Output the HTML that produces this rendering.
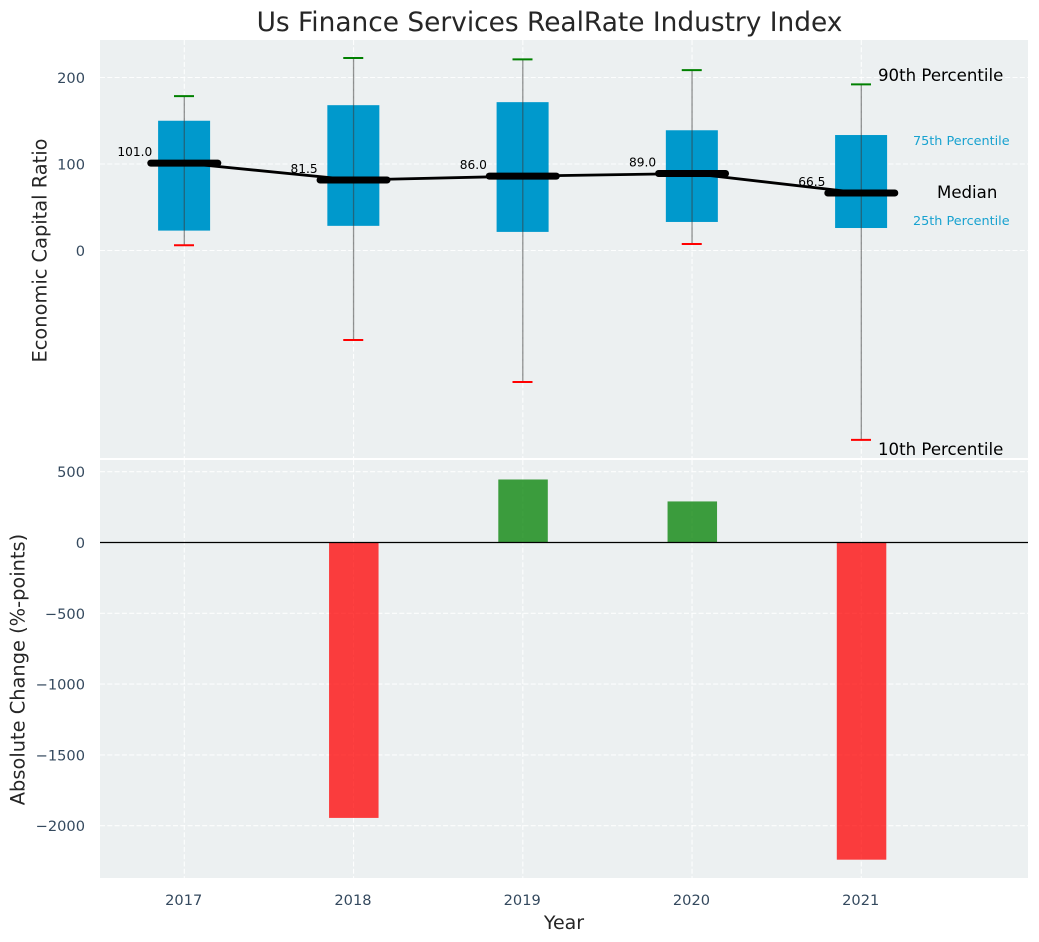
<!DOCTYPE html>
<html lang="en">
<head>
<meta charset="utf-8">
<title>Us Finance Services RealRate Industry Index</title>
<style>
html,body{margin:0;padding:0;background:#fff;width:1039px;height:942px;overflow:hidden}
svg{display:block;font-family:"DejaVu Sans","Liberation Sans",sans-serif}
</style>
</head>
<body>
<svg id="chart" width="1039" height="942" viewBox="0 0 1039 942" xmlns="http://www.w3.org/2000/svg">
  <rect x="100" y="40" width="928" height="418" fill="#ecf0f1"/>
  <rect x="100" y="460" width="928" height="418" fill="#ecf0f1"/>
  <text x="549.5" y="31" text-anchor="middle" font-size="26.4" fill="#262626">Us Finance Services RealRate Industry Index</text>
  <text transform="translate(46.5,250.5) rotate(-90)" text-anchor="middle" font-size="19.4" fill="#262626">Economic Capital Ratio</text>
  <text transform="translate(24.5,669.5) rotate(-90)" text-anchor="middle" font-size="19.4" fill="#262626">Absolute Change (%-points)</text>
  <text x="564" y="929" text-anchor="middle" font-size="19" fill="#262626">Year</text>
  <g id="grid"></g>
  <g id="bars"></g>
  <g id="boxes"></g>
  <g id="ticks"></g>
  <text x="878" y="81" font-size="16.6" fill="#000">90th Percentile</text>
  <text x="913" y="145" font-size="12.8" fill="#0099cc" fill-opacity="0.9">75th Percentile</text>
  <text x="937" y="198" font-size="16.6" fill="#000">Median</text>
  <text x="913" y="225" font-size="12.8" fill="#0099cc" fill-opacity="0.9">25th Percentile</text>
  <text x="878" y="455" font-size="16.6" fill="#000">10th Percentile</text>
</svg>
<script>
const years = [2017, 2018, 2019, 2020, 2021];
const p90 = [178.5, 222.5, 221, 208.5, 192];
const p75 = [150, 168, 171.5, 139, 133.5];
const medians = [101.0, 81.5, 86.0, 89.0, 66.5];
const p25 = [23, 28.5, 21.5, 33, 26];
const p10 = [6, -103.5, -152, 7.5, -219];
const changes = [0, -1945, 445, 290, -2240];
const topTicks = [200, 100, 0];
const bottomTicks = [500, 0, -500, -1000, -1500, -2000];

const NS = 'http://www.w3.org/2000/svg';
const xPos = function (year) { return 184.3 + (year - 2017) * 169.25; };
const yTop = function (v) { return 250.5 - v * 0.865; };
const yBottom = function (v) { return 542.5 - v * 0.1416; };

function make(parent, tag, attrs, text) {
  const el = document.createElementNS(NS, tag);
  Object.keys(attrs).forEach(function (k) { el.setAttribute(k, attrs[k]); });
  if (text !== undefined) el.textContent = text;
  parent.appendChild(el);
  return el;
}
function fmt(v) { return String(v).replace('-', '\u2212'); }

const grid = document.getElementById('grid');
const bars = document.getElementById('bars');
const boxes = document.getElementById('boxes');
const ticks = document.getElementById('ticks');
const gridStyle = { stroke: '#ffffff', 'stroke-width': 1.1, 'stroke-dasharray': '5 2.3', 'stroke-opacity': 0.9 };

years.forEach(function (year) {
  const x = xPos(year);
  const g1 = make(grid, 'line', Object.assign({ x1: x, x2: x, y1: 40, y2: 458 }, gridStyle));
  
  
  const g2 = make(grid, 'line', Object.assign({ x1: x, x2: x, y1: 460, y2: 878 }, gridStyle));
  
  
  const t = make(ticks, 'text', { x: x - 0.6, y: 905, 'text-anchor': 'middle', 'font-size': 14.6, fill: '#34495e' }, String(year));
  
  
});

topTicks.forEach(function (v) {
  const y = yTop(v);
  const g = make(grid, 'line', Object.assign({ x1: 100, x2: 1028, y1: y, y2: y }, gridStyle));
  
  
  const t = make(ticks, 'text', { x: 85, y: y + 5.5, 'text-anchor': 'end', 'font-size': 14.6, fill: '#34495e' }, fmt(v));
  
  
});

bottomTicks.forEach(function (v) {
  const y = yBottom(v);
  const g = make(grid, 'line', Object.assign({ x1: 100, x2: 1028, y1: y, y2: y }, gridStyle));
  
  
  const t = make(ticks, 'text', { x: 85, y: y + 5.5, 'text-anchor': 'end', 'font-size': 14.6, fill: '#34495e' }, fmt(v));
  
  
});

changes.forEach(function (v, i) {
  if (v === 0) return;
  const x = xPos(years[i]);
  const y0 = yBottom(0);
  const y1 = yBottom(v);
  const bar = make(bars, 'rect', {
    x: x - 24.5, width: 49.5,
    y: Math.min(y0, y1), height: Math.abs(y1 - y0),
    fill: v < 0 ? '#ff0000' : '#008000', 'fill-opacity': 0.75
  });
  
  
});

const zero = make(bars, 'line', { x1: 100, x2: 1028, y1: yBottom(0), y2: yBottom(0), stroke: '#000', 'stroke-width': 1.2 });



years.forEach(function (year, i) {
  const x = xPos(year);
  const box = make(boxes, 'rect', {
    x: x - 26.2, width: 52, y: yTop(p75[i]), height: yTop(p25[i]) - yTop(p75[i]), fill: '#0099cc'
  });
  
  
  const w = make(boxes, 'line', { x1: x, x2: x, y1: yTop(p90[i]), y2: yTop(p10[i]), stroke: '#3a3a3a', 'stroke-opacity': 0.55, 'stroke-width': 1.3 });
  
  
  const hi = make(boxes, 'line', { x1: x - 10.3, x2: x + 9.7, y1: yTop(p90[i]), y2: yTop(p90[i]), stroke: '#008000', 'stroke-width': 2 });
  
  
  const lo = make(boxes, 'line', { x1: x - 10.3, x2: x + 9.7, y1: yTop(p10[i]), y2: yTop(p10[i]), stroke: '#ff0000', 'stroke-width': 2 });
  
  
});

const trend = make(boxes, 'polyline', {
  points: years.map(function (year, i) { return xPos(year) + ',' + yTop(medians[i]); }).join(' '),
  fill: 'none', stroke: '#000', 'stroke-width': 2.8
});



years.forEach(function (year, i) {
  const x = xPos(year);
  const y = yTop(medians[i]);
  const m = make(boxes, 'line', { x1: x - 33.5, x2: x + 33.5, y1: y, y2: y, stroke: '#000', 'stroke-width': 7, 'stroke-linecap': 'round' });
  
  
  const t = make(boxes, 'text', { x: x - 49.5, y: y - 7, 'text-anchor': 'middle', 'font-size': 12.2, fill: '#000' }, medians[i].toFixed(1));
  
  
});
</script>
</body>
</html>
